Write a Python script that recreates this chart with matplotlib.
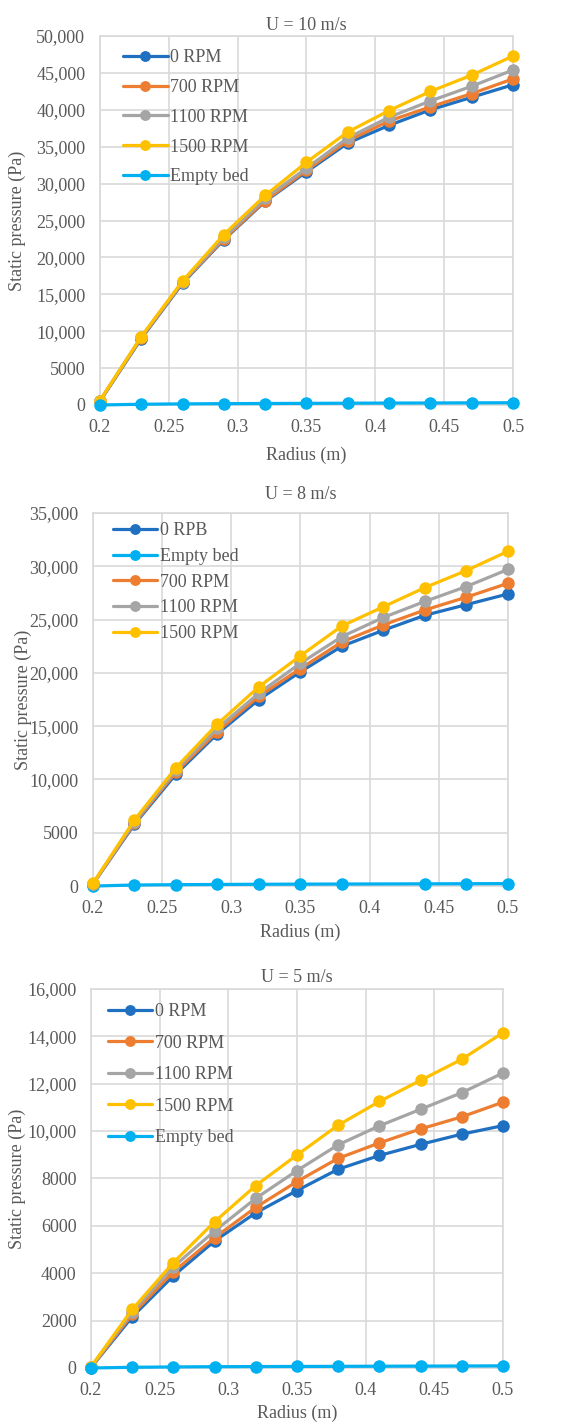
import matplotlib
matplotlib.use("Agg")
import matplotlib.pyplot as plt
from matplotlib.ticker import FuncFormatter, MultipleLocator

plt.rcParams['font.family'] = ['Liberation Serif', 'DejaVu Serif']

radius = [0.2, 0.23, 0.26, 0.29, 0.32, 0.35, 0.38, 0.41, 0.44, 0.47, 0.5]

# U = 10 m/s
u10_0 = [500, 9000, 16500, 22400, 27600, 31600, 35500, 37900, 40000, 41700, 43400]
u10_700 = [550, 9100, 16600, 22500, 27700, 31800, 35800, 38500, 40400, 42200, 44200]
u10_1100 = [600, 9200, 16700, 22700, 28000, 32100, 36200, 39000, 41200, 43200, 45400]
u10_1500 = [600, 9260, 16800, 23100, 28400, 32900, 37000, 39900, 42500, 44700, 47300]
u10_empty = [0, 100, 150, 180, 200, 220, 240, 260, 270, 290, 300]

# U = 8 m/s
u8_0 = [200, 5800, 10500, 14300, 17500, 20100, 22500, 24000, 25400, 26400, 27400]
u8_700 = [220, 5900, 10700, 14500, 17800, 20400, 22900, 24500, 25900, 27100, 28400]
u8_1100 = [240, 6000, 10900, 14800, 18100, 20900, 23400, 25200, 26700, 28100, 29700]
u8_1500 = [250, 6200, 11100, 15200, 18700, 21600, 24400, 26200, 28000, 29600, 31400]
u8_empty_r = [0.2, 0.23, 0.26, 0.29, 0.32, 0.35, 0.38, 0.44, 0.47, 0.5]
u8_empty = [0, 100, 130, 150, 170, 180, 190, 210, 220, 230]

# U = 5 m/s
u5_0 = [20, 2160, 3890, 5360, 6550, 7490, 8390, 8970, 9440, 9870, 10230]
u5_700 = [30, 2260, 4060, 5500, 6780, 7870, 8850, 9500, 10090, 10600, 11220]
u5_1100 = [40, 2370, 4270, 5780, 7160, 8330, 9420, 10220, 10920, 11620, 12450]
u5_1500 = [50, 2470, 4450, 6170, 7700, 8990, 10250, 11250, 12140, 13030, 14150]
u5_empty = [0, 30, 45, 55, 60, 65, 70, 75, 80, 85, 90]

C0 = '#1F70C1'
C700 = '#ED7D31'
C1100 = '#A5A5A5'
C1500 = '#FFC000'
CEMPTY = '#00B0F0'
TXT = '#595959'
GRID = '#D9D9D9'
FS = 13

def yfmt(v, pos):
    v = int(round(v))
    if v >= 10000:
        return f'{v:,}'
    return str(v)

def xfmt(v, pos):
    return f'{v:.2f}'.rstrip('0').rstrip('.')

fig = plt.figure(figsize=(5.81, 14.25), dpi=100)

panels = [
    dict(rect=[0.172, 0.7158, 0.711, 0.2589], title='U = 10 m/s', ymax=50000, step=5000,
         series=[(radius, u10_0, '0 RPM', C0), (radius, u10_700, '700 RPM', C700),
                 (radius, u10_1100, '1100 RPM', C1100), (radius, u10_1500, '1500 RPM', C1500),
                 (radius, u10_empty, 'Empty bed', CEMPTY)],
         leg_anchor=(0.039, 0.984), labelspacing=0.71, ylab_x=-0.179,
         title_pad=4.5, xlabelpad=8),
    dict(rect=[0.160, 0.3782, 0.714, 0.2618], title='U = 8 m/s', ymax=35000, step=5000,
         series=[(radius, u8_0, '0 RPB', C0), (u8_empty_r, u8_empty, 'Empty bed', CEMPTY),
                 (radius, u8_700, '700 RPM', C700), (radius, u8_1100, '1100 RPM', C1100),
                 (radius, u8_1500, '1500 RPM', C1500)],
         leg_anchor=(0.031, 0.994), labelspacing=0.48, ylab_x=-0.147,
         title_pad=10, xlabelpad=4.5),
    dict(rect=[0.1566, 0.04, 0.709, 0.266], title='U = 5 m/s', ymax=16000, step=2000,
         series=[(radius, u5_0, '0 RPM', C0), (radius, u5_700, '700 RPM', C700),
                 (radius, u5_1100, '1100 RPM', C1100), (radius, u5_1500, '1500 RPM', C1500),
                 (radius, u5_empty, 'Empty bed', CEMPTY)],
         leg_anchor=(0.024, 0.981), labelspacing=0.8, ylab_x=-0.158,
         title_pad=5, xlabelpad=4.5),
]

for p in panels:
    ax = fig.add_axes(p['rect'])
    for xs, ys, lab, col in p['series']:
        ax.plot(xs, ys, color=col, lw=2.3, marker='o', markersize=8,
                markerfacecolor=col, markeredgecolor=col, label=lab,
                solid_capstyle='round', clip_on=False, zorder=3)
    ax.set_xlim(0.2, 0.5)
    ax.set_ylim(0, p['ymax'])
    ax.xaxis.set_major_locator(MultipleLocator(0.05))
    ax.yaxis.set_major_locator(MultipleLocator(p['step']))
    ax.xaxis.set_major_formatter(FuncFormatter(xfmt))
    ax.yaxis.set_major_formatter(FuncFormatter(yfmt))
    ax.grid(True, color=GRID, lw=1.2)
    ax.set_axisbelow(True)
    for s in ax.spines.values():
        s.set_color(GRID)
        s.set_linewidth(1.2)
    ax.tick_params(axis='x', length=0, labelsize=FS, colors=TXT, pad=10)
    ax.tick_params(axis='y', length=0, labelsize=FS, colors=TXT, pad=10.5)
    ax.set_title(p['title'], fontsize=FS, color=TXT, pad=p['title_pad'])
    ax.set_xlabel('Radius (m)', fontsize=FS, color=TXT, labelpad=p['xlabelpad'])
    ax.set_ylabel('Static pressure (Pa)', fontsize=FS, color=TXT)
    ax.yaxis.set_label_coords(p['ylab_x'], 0.5)
    leg = ax.legend(loc='upper left', bbox_to_anchor=p['leg_anchor'], frameon=False,
                    fontsize=FS, handlelength=2.45, handletextpad=0.15,
                    labelspacing=p['labelspacing'], borderaxespad=0, markerscale=0.85)
    for t in leg.get_texts():
        t.set_color(TXT)

fig.savefig('out.png', dpi=100, facecolor='white')
